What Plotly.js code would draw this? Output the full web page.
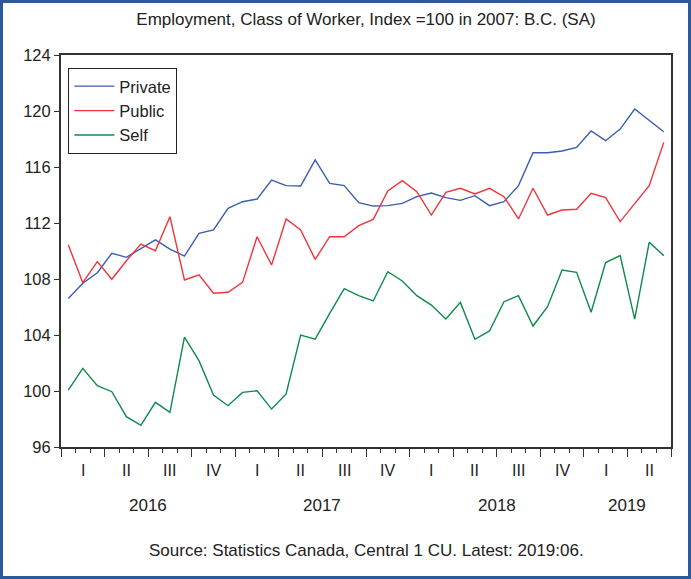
<!DOCTYPE html>
<html>
<head>
<meta charset="utf-8">
<script src="https://cdn.plot.ly/plotly-3.0.1.min.js"></script>
<style>
  body { margin: 0; background: #fff; }
  #wrap { position: relative; width: 691px; height: 579px; }
  #chart { width: 691px; height: 579px; }
  #frame { position: absolute; left: 0; top: 0; width: 691px; height: 579px;
           box-sizing: border-box; border: 3px solid #2a5a9a; pointer-events: none; }
</style>
</head>
<body>
<div id="wrap">
  <div id="chart"></div>
  <div id="frame"></div>
</div>
<script>
// monthly, 2016:01 - 2019:06
var months = [];
for (var i = 0; i < 42; i++) months.push(i);

var privateValues = [106.6, 107.7, 108.45, 109.84, 109.55, 110.2, 110.79, 110.14, 109.64, 111.26, 111.5, 113.05,
                     113.52, 113.71, 115.07, 114.67, 114.64, 116.5, 114.83, 114.67, 113.45, 113.21, 113.24, 113.4,
                     113.88, 114.14, 113.81, 113.62, 113.95, 113.24, 113.52, 114.67, 117.02, 117.02, 117.14, 117.4,
                     118.57, 117.88, 118.71, 120.14, 119.36, 118.52];
var publicValues = [110.45, 107.74, 109.24, 107.98, 109.3, 110.5, 110.02, 112.45, 107.93, 108.29, 106.98, 107.05,
                    107.76, 111.02, 109.0, 112.29, 111.5, 109.4, 111.02, 111.02, 111.81, 112.26, 114.29, 115.02,
                    114.24, 112.57, 114.19, 114.48, 114.07, 114.48, 113.88, 112.29, 114.48, 112.57, 112.93, 112.98,
                    114.12, 113.81, 112.1, 113.4, 114.67, 117.76];
var selfValues = [100.07, 101.62, 100.38, 99.95, 98.17, 97.55, 99.19, 98.48, 103.84, 102.17, 99.71, 98.95,
                  99.9, 100.02, 98.71, 99.79, 104.0, 103.71, 105.55, 107.31, 106.81, 106.43, 108.52, 107.86,
                  106.81, 106.14, 105.14, 106.33, 103.69, 104.29, 106.38, 106.81, 104.64, 106.02, 108.64, 108.48,
                  105.62, 109.17, 109.67, 105.14, 110.62, 109.67];

var quarterLabels = ["I", "II", "III", "IV", "I", "II", "III", "IV", "I", "II", "III", "IV", "I", "II"];
var yearLabels = ["2016", "2017", "2018", "2019"];
var yearMonths = [12, 12, 12, 6];
var yTicks = [96, 100, 104, 108, 112, 116, 120, 124];

var font = "Liberation Sans, Arial, sans-serif";

var traces = [
  { x: months, y: privateValues, name: "Private", type: "scatter", mode: "lines",
    line: { color: "#3b5cb3", width: 1.4 } },
  { x: months, y: publicValues, name: "Public", type: "scatter", mode: "lines",
    line: { color: "#f0343c", width: 1.4 } },
  { x: months, y: selfValues, name: "Self", type: "scatter", mode: "lines",
    line: { color: "#0d8a4c", width: 1.4 } }
];

// quarter boundaries for the long ticks
var quarterEdges = [];
for (var q = 0; q <= quarterLabels.length; q++) quarterEdges.push(q * 3 - 0.5);

var annotations = [];
quarterLabels.forEach(function (lab, q) {
  annotations.push({ x: q * 3 + 1, y: -0.0587, xref: "x", yref: "paper", yanchor: "middle", text: lab,
                     showarrow: false, font: { family: font, size: 16, color: "#222" } });
});
var start = 0;
yearLabels.forEach(function (lab, k) {
  annotations.push({ x: start + (yearMonths[k] - 1) / 2, y: -0.1505, xref: "x", yref: "paper", yanchor: "middle",
                     text: lab, showarrow: false, font: { family: font, size: 17, color: "#222" } });
  start += yearMonths[k];
});
annotations.push({ x: 0.5, y: -0.263, xref: "paper", yref: "paper", yanchor: "middle",
                   text: "Source: Statistics Canada, Central 1 CU. Latest: 2019:06.",
                   showarrow: false, font: { family: font, size: 17, color: "#222" } });

var layout = {
  width: 691, height: 579,
  margin: { l: 61, r: 20, t: 55, b: 132 },
  paper_bgcolor: "#fff", plot_bgcolor: "#fff",
  font: { family: font, size: 16, color: "#222" },
  title: { text: "Employment, Class of Worker, Index =100 in 2007: B.C. (SA)", x: 0.5, xref: "paper",
           y: 0.978, yref: "container", yanchor: "top", font: { family: font, size: 17, color: "#222" } },
  xaxis: {
    range: [-0.5, 41.5], showgrid: false, zeroline: false,
    showline: true, linecolor: "#333", linewidth: 2, mirror: true,
    tickmode: "array", tickvals: quarterEdges, ticktext: quarterEdges.map(function () { return ""; }),
    ticks: "outside", ticklen: 8, tickcolor: "#333", tickwidth: 1,
    minor: { tick0: -0.5, dtick: 1, ticks: "outside", ticklen: 4, tickcolor: "#333", tickwidth: 1, showgrid: false }
  },
  yaxis: {
    range: [96, 124], showgrid: false, zeroline: false,
    showline: true, linecolor: "#333", linewidth: 2, mirror: true,
    tickmode: "array", tickvals: yTicks,
    ticks: "outside", ticklen: 5, tickcolor: "#333",
    tickfont: { family: font, size: 16.5, color: "#222" }
  },
  legend: {
    x: 0.012, y: 0.967, xanchor: "left", yanchor: "top",
    bgcolor: "#fff", bordercolor: "#222", borderwidth: 1,
    font: { family: font, size: 16.5, color: "#222" },
    itemwidth: 40, tracegroupgap: 0
  },
  annotations: annotations,
  showlegend: true
};

Plotly.newPlot("chart", traces, layout, { displayModeBar: false, staticPlot: true });
</script>
</body>
</html>
